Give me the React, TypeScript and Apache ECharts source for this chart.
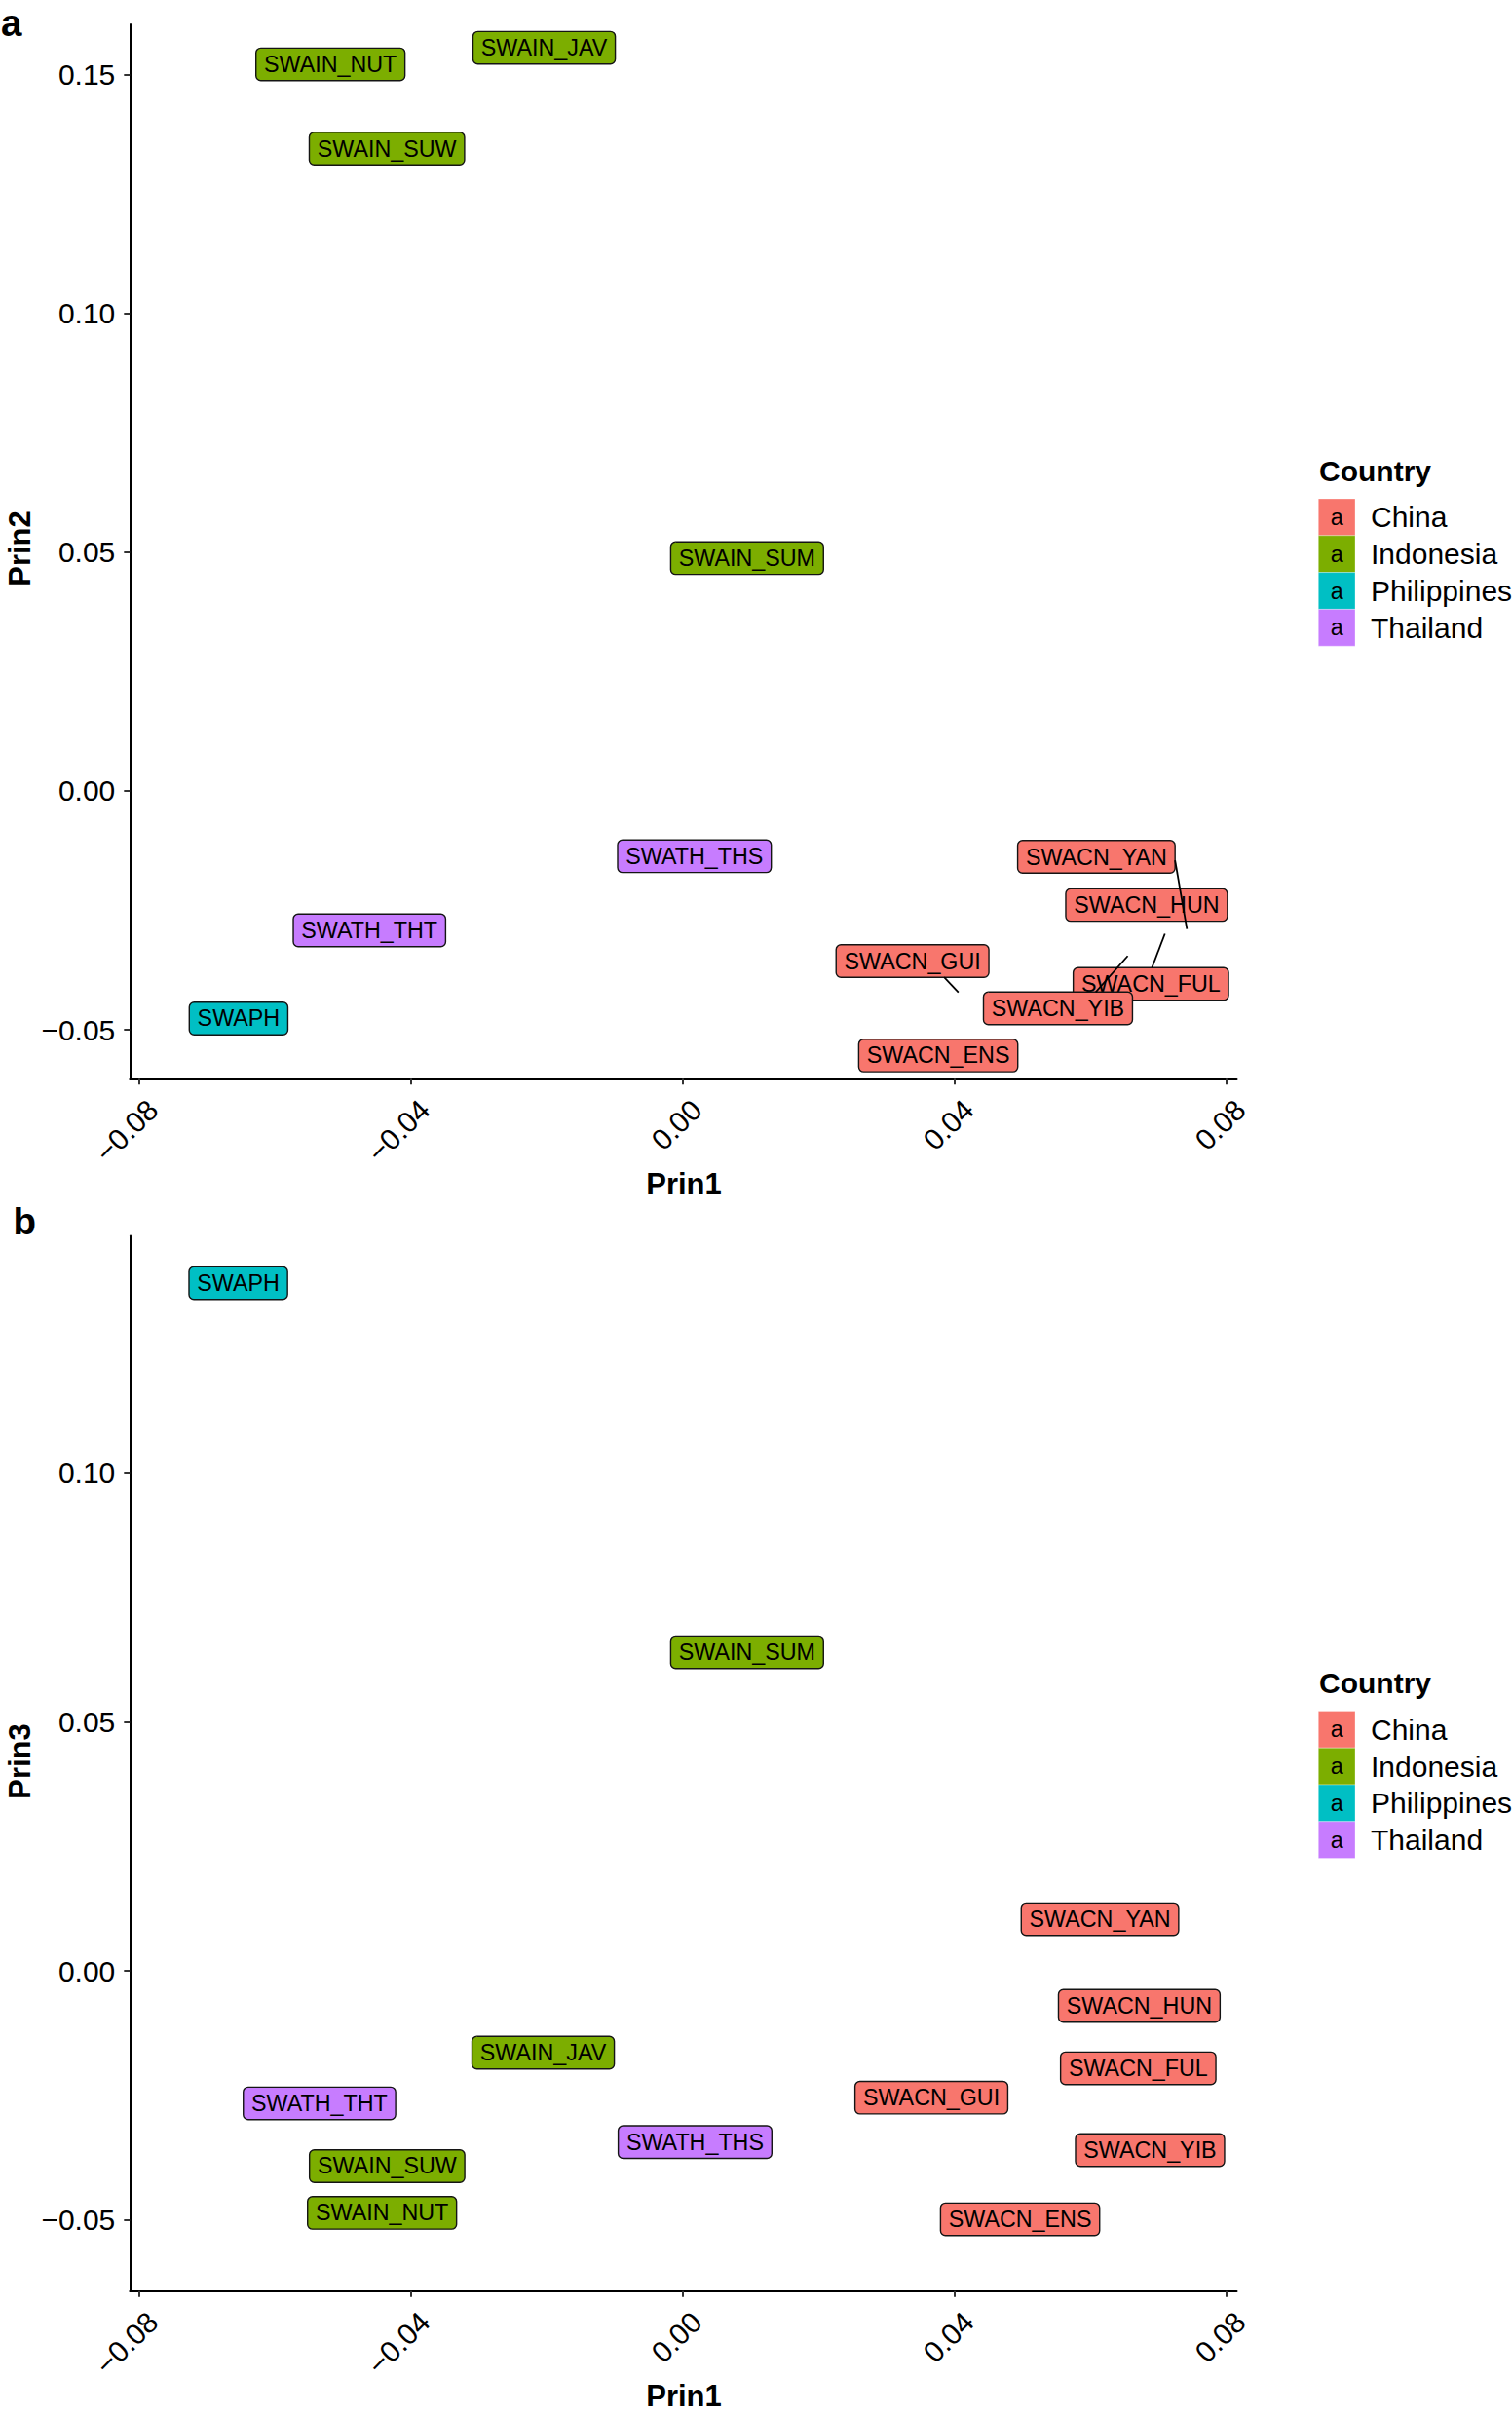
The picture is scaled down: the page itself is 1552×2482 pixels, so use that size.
import React, { useEffect, useRef } from "react";
import * as echarts from "echarts";

// ---------------- data ----------------
const samples = [
  "SWACN_YAN", "SWACN_HUN", "SWACN_FUL", "SWACN_YIB", "SWACN_GUI", "SWACN_ENS",
  "SWAIN_JAV", "SWAIN_NUT", "SWAIN_SUW", "SWAIN_SUM",
  "SWATH_THS", "SWATH_THT", "SWAPH",
];
const country = [
  "China", "China", "China", "China", "China", "China",
  "Indonesia", "Indonesia", "Indonesia", "Indonesia",
  "Thailand", "Thailand", "Philippines",
];
const prin1 = [0.0742, 0.0679, 0.071, 0.0656, 0.0407, 0.0435, -0.0205, -0.0481, -0.0435, 0.0095, 0.0017, -0.0498, -0.0738];
const prin2 = [-0.0292, -0.0288, -0.0296, -0.0343, -0.0424, -0.0504, 0.1505, 0.1473, 0.134, 0.0488, -0.0137, -0.0292, -0.0476];
const prin3 = [0.0104, -0.0069, -0.0194, -0.0359, -0.0254, -0.0546, -0.0163, -0.0486, -0.0391, 0.0639, -0.0343, -0.0265, 0.1379];

const countries = ["China", "Indonesia", "Philippines", "Thailand"];
const xTicks = [-0.08, -0.04, 0, 0.04, 0.08];
const yTicksA = [-0.05, 0, 0.05, 0.1, 0.15];
const yTicksB = [-0.05, 0, 0.05, 0.1];

// ---------------- layout / style ----------------
// label displacement (px) of each repelled label from its point, per panel
const nudgeA = [
  [-93.2, -75.6], [2.3, -24.2], [-14.9, 52.9], [-72.6, 54.9], [-48.2, -33.3], [-41.3, 24.4],
  [0.7, -25.2], [-26.1, -23.9], [-0.2, -2.6], [-0.3, 0.2], [0.1, -0.2], [25.8, -0.1], [58.9, 0.2],
];
const nudgeB = [
  [-89.5, 0.2], [-5.2, 0.7], [-27.9, 0.8], [21.9, 0.4], [-28.8, 0.3], [42.7, -24.2],
  [-0.3, 0.6], [26.9, -0.1], [0, 0.5], [-0.3, -0.2], [0.7, 0.3], [-25.5, 0.5], [58.6, -0.8],
];
const palette = ["#F8766D", "#7CAE00", "#00BFC4", "#C77CFF"];
const FONT = '"Liberation Sans", Arial, Helvetica, sans-serif';
const LABEL_FS = 23.3;
const LABEL_PAD = 8.3;
const LABEL_H = 33.4;
const MIN_SEG = 12;

const colorOf = (c: string) => palette[countries.indexOf(c)];

let measureCtx: CanvasRenderingContext2D | null = null;
function textWidth(s: string) {
  if (!measureCtx) measureCtx = document.createElement("canvas").getContext("2d");
  measureCtx!.font = `${LABEL_FS}px "Liberation Sans"`;
  return measureCtx!.measureText(s).width;
}

function boxOf(i: number, px: number, py: number, nudges: number[][]) {
  const cx = px + nudges[i][0];
  const cy = py + nudges[i][1];
  const w = textWidth(samples[i]) + 2 * LABEL_PAD;
  return { cx, cy, w, h: LABEL_H, b: [cx - w / 2, cy - LABEL_H / 2, cx + w / 2, cy + LABEL_H / 2] };
}

// connection point of the segment on the label box (ggrepel-like)
function connect(px: number, py: number, b: number[]) {
  let ox: number, oy: number;
  let horiz = false, vert = false;
  if (px >= b[0] && px <= b[2]) ox = px;
  else if (px > b[2]) { ox = b[2]; horiz = true; }
  else { ox = b[0]; horiz = true; }
  if (py >= b[1] && py <= b[3]) oy = py;
  else if (py > b[3]) { oy = b[3]; vert = true; }
  else { oy = b[1]; vert = true; }
  const mx = (b[0] + b[2]) / 2, my = (b[1] + b[3]) / 2;
  const d = Math.hypot(px - ox, py - oy);
  if (vert && !horiz) {
    const alt = Math.hypot(px - mx, py - oy);
    ox = ox + ((mx - ox) * d) / alt;
  } else if (horiz && !vert) {
    const alt = Math.hypot(px - ox, py - my);
    oy = oy + ((my - oy) * d) / alt;
  } else if (horiz && vert) {
    const a1 = Math.hypot(px - mx, py - oy);
    const a2 = Math.hypot(px - ox, py - my);
    if (a1 < a2) ox = ox + ((mx - ox) * d) / a1;
    else oy = oy + ((my - oy) * d) / a2;
  }
  return { ox, oy, d };
}

function labelRenderer(nudges: number[][]) {
  return (_params: any, api: any) => {
    const i = api.value(2);
    const [px, py] = api.coord([api.value(0), api.value(1)]);
    const bx = boxOf(i, px, py, nudges);
    return {
      type: "group",
      children: [
        {
          type: "rect",
          shape: { x: bx.b[0], y: bx.b[1], width: bx.w, height: bx.h, r: 5 },
          style: { fill: colorOf(country[i]), stroke: "#141414", lineWidth: 1.4 },
        },
        {
          type: "text",
          x: bx.cx,
          y: bx.cy,
          style: {
            text: samples[i],
            fill: "#000",
            fontSize: LABEL_FS,
            fontFamily: FONT,
            align: "center",
            verticalAlign: "middle",
          },
        },
      ],
    };
  };
}

function segmentRenderer(nudges: number[][]) {
  return (_params: any, api: any) => {
    const i = api.value(2);
    const [px, py] = api.coord([api.value(0), api.value(1)]);
    const bx = boxOf(i, px, py, nudges);
    const c = connect(px, py, bx.b);
    if (c.d < MIN_SEG) return { type: "group", children: [] };
    const len = Math.hypot(px - c.ox, py - c.oy);
    const sh = 1.5 / len;
    return {
      type: "line",
      shape: { x1: px + (c.ox - px) * sh, y1: py + (c.oy - py) * sh, x2: c.ox, y2: c.oy },
      style: { stroke: "#000", lineWidth: 1.8 },
    };
  };
}

const fmt = (v: number) => (v < -1e-9 ? "\u2212" : "") + Math.abs(v).toFixed(2);

const X_MIN = -0.08135;
const X_MAX = 0.0815;

function xAxisCfg(gridIndex: number) {
  return {
    type: "value",
    gridIndex,
    min: X_MIN,
    max: X_MAX,
    axisLine: { show: true, onZero: false, lineStyle: { color: "#000", width: 2 } },
    axisTick: { show: true, length: 6, customValues: xTicks, lineStyle: { color: "#333", width: 2 } },
    axisLabel: {
      show: true,
      customValues: xTicks,
      rotate: 45,
      align: "right",
      verticalAlign: "top",
      lineHeight: 40,
      margin: 12.5,
      fontSize: 30,
      fontFamily: FONT,
      color: "#000",
      formatter: fmt,
    },
    splitLine: { show: false },
  };
}

function yAxisCfg(gridIndex: number, min: number, max: number, ticks: number[]) {
  return {
    type: "value",
    gridIndex,
    min,
    max,
    axisLine: { show: true, onZero: false, lineStyle: { color: "#000", width: 2 } },
    axisTick: { show: true, length: 6, customValues: ticks, lineStyle: { color: "#333", width: 2 } },
    axisLabel: {
      show: true,
      customValues: ticks,
      margin: 15,
      fontSize: 30,
      fontFamily: FONT,
      color: "#000",
      formatter: fmt,
    },
    splitLine: { show: false },
  };
}

function legendGraphics(dy: number) {
  const els: any[] = [
    {
      type: "text",
      x: 1354,
      y: 483.5 + dy,
      style: { text: "Country", fill: "#000", fontSize: 30, fontWeight: "bold", fontFamily: FONT, align: "left", verticalAlign: "middle" },
    },
  ];
  const key = 37.8;
  countries.forEach((c, k) => {
    const top = 512 + dy + k * key;
    els.push({
      type: "rect",
      shape: { x: 1353.3, y: top, width: 37.7, height: key },
      style: { fill: palette[k], stroke: "rgba(255,255,255,0.5)", lineWidth: 0.6 },
    });
    els.push({
      type: "text",
      x: 1372.2,
      y: top + key / 2,
      style: { text: "a", fill: "#000", fontSize: LABEL_FS, fontFamily: FONT, align: "center", verticalAlign: "middle" },
    });
    els.push({
      type: "text",
      x: 1407,
      y: top + key / 2,
      style: { text: c, fill: "#000", fontSize: 30, fontFamily: FONT, align: "left", verticalAlign: "middle" },
    });
  });
  return els;
}

const titleStyle = { fill: "#000", fontSize: 31, fontWeight: "bold", fontFamily: FONT, align: "center", verticalAlign: "middle" };

const graphics: any[] = [
  { type: "text", x: 1, y: 23.4, style: { text: "a", fill: "#000", fontSize: 38.5, fontWeight: "bold", fontFamily: FONT, align: "left", verticalAlign: "middle" } },
  { type: "text", x: 13.4, y: 1253.5, style: { text: "b", fill: "#000", fontSize: 38.5, fontWeight: "bold", fontFamily: FONT, align: "left", verticalAlign: "middle" } },
  { type: "text", x: 702, y: 1215, style: { ...titleStyle, text: "Prin1" } },
  { type: "text", x: 702, y: 2459, style: { ...titleStyle, text: "Prin1" } },
  { type: "text", x: 20.8, y: 563, rotation: Math.PI / 2, style: { ...titleStyle, text: "Prin2" } },
  { type: "text", x: 20.8, y: 1808, rotation: Math.PI / 2, style: { ...titleStyle, text: "Prin3" } },
  ...legendGraphics(0),
  ...legendGraphics(1244.4),
];

const dataA = samples.map((_, i) => [prin1[i], prin2[i], i]);
const dataB = samples.map((_, i) => [prin1[i], prin3[i], i]);

const option: any = {
  animation: false,
  backgroundColor: "#fff",
  textStyle: { fontFamily: FONT },
  grid: [
    { left: 133.3, top: 25, width: 1136.2, height: 1082.3 },
    { left: 133.3, top: 1268.6, width: 1136.2, height: 1083.1 },
  ],
  xAxis: [xAxisCfg(0), xAxisCfg(1)],
  yAxis: [yAxisCfg(0, -0.06025, 0.16055, yTicksA), yAxisCfg(1, -0.06427, 0.14752, yTicksB)],
  series: [
    { type: "custom", name: "labelsA", xAxisIndex: 0, yAxisIndex: 0, data: dataA, encode: { x: 0, y: 1 }, renderItem: labelRenderer(nudgeA), clip: false, silent: true, z: 3 },
    { type: "custom", name: "segmentsA", xAxisIndex: 0, yAxisIndex: 0, data: dataA, encode: { x: 0, y: 1 }, renderItem: segmentRenderer(nudgeA), clip: false, silent: true, z: 4 },
    { type: "custom", name: "labelsB", xAxisIndex: 1, yAxisIndex: 1, data: dataB, encode: { x: 0, y: 1 }, renderItem: labelRenderer(nudgeB), clip: false, silent: true, z: 3 },
    { type: "custom", name: "segmentsB", xAxisIndex: 1, yAxisIndex: 1, data: dataB, encode: { x: 0, y: 1 }, renderItem: segmentRenderer(nudgeB), clip: false, silent: true, z: 4 },
  ],
  graphic: graphics,
};

export default function App() {
  const ref = useRef<HTMLDivElement>(null);
  useEffect(() => {
    const chart = echarts.init(ref.current!, null, { renderer: "svg" });
    chart.setOption(option);
    return () => chart.dispose();
  }, []);
  return (
    <div
      ref={ref}
      style={{ position: "absolute", left: 0, top: 0, width: 1552, height: 2482, background: "#fff" }}
    />
  );
}
